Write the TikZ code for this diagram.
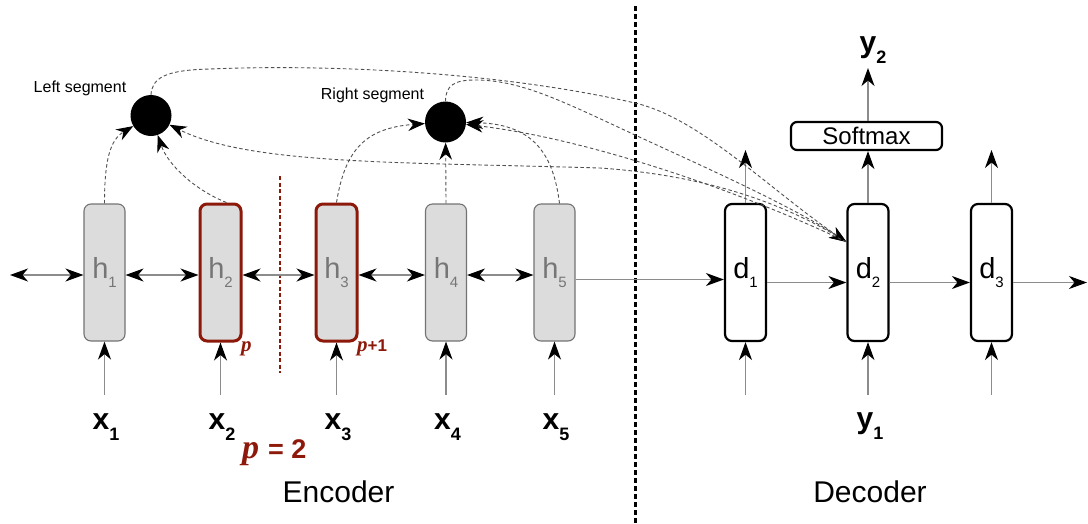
\documentclass[tikz,border=0pt]{standalone}
\usepackage{fontspec}
\setmainfont{Liberation Sans}
\newfontfamily\pserif{Liberation Serif}
\usetikzlibrary{arrows.meta,calc}
\definecolor{segred}{RGB}{140,25,10}
\definecolor{boxgray}{RGB}{220,220,220}
\definecolor{linegray}{RGB}{140,140,140}
\definecolor{labgray}{RGB}{118,118,118}
\definecolor{dashgray}{RGB}{80,80,80}
\newcommand{\hlab}[1]{{\color{labgray}\fontsize{29}{29}\selectfont h\raisebox{-8.5pt}{\fontsize{15}{15}\selectfont #1}}}
\newcommand{\dlab}[1]{{\fontsize{29}{29}\selectfont d\raisebox{-8.5pt}{\fontsize{15}{15}\selectfont #1}}}
\newcommand{\xylab}[2]{{\fontsize{30}{30}\selectfont\bfseries #1\raisebox{-11pt}{\fontsize{18}{18}\selectfont #2}}}
\begin{document}
\begin{tikzpicture}[x=1pt,y=-1pt,
  hbox/.style={draw=black!55,line width=1.1pt,fill=boxgray,rounded corners=7pt,minimum width=41pt,minimum height=137pt,inner sep=0pt},
  pbox/.style={hbox,draw=segred,line width=3pt},
  dbox/.style={draw=black,line width=2.2pt,fill=white,rounded corners=7pt,minimum width=41pt,minimum height=137pt,inner sep=0pt},
  smbox/.style={draw=black,line width=2.2pt,fill=white,rounded corners=6pt,minimum width=151pt,minimum height=28pt,inner sep=0pt,font=\fontsize{24}{24}\selectfont},
  seg/.style={circle,fill=black,minimum size=41pt,inner sep=0pt},
  arr/.style={draw=linegray,line width=1.2pt,-{Stealth[length=18pt,width=13pt,inset=5.5pt,color=black]}},
  barr/.style={draw=linegray,line width=1.2pt,{Stealth[length=18pt,width=13pt,inset=5.5pt,color=black]}-{Stealth[length=18pt,width=13pt,inset=5.5pt,color=black]}},
  dsh/.style={draw=dashgray,line width=0.9pt,dash pattern=on 3.5pt off 2.5pt,-{Stealth[length=17pt,width=12.5pt,inset=5.5pt,color=black]}},
  txt/.style={anchor=base,inner sep=0pt}
]
\useasboundingbox (0,0) rectangle (1088,523);

% separators
\draw[line width=3pt,dash pattern=on 5pt off 3pt] (635,6) -- (635,523);
\draw[segred,line width=2.8pt,dash pattern=on 4pt off 2.5pt] (280,176) -- (280,373);

% encoder boxes
\node[hbox] (h1) at (104.5,272.5) {\hlab{1}};
\node[pbox] (h2) at (220.5,272.5) {\hlab{2}};
\node[pbox] (h3) at (336.5,272.5) {\hlab{3}};
\node[hbox] (h4) at (446,272.5) {\hlab{4}};
\node[hbox] (h5) at (554.5,272.5) {\hlab{5}};
% decoder boxes
\node[dbox] (d1) at (745.5,272.5) {\dlab{1}};
\node[dbox] (d2) at (868,272.5) {\dlab{2}};
\node[dbox] (d3) at (991.5,272.5) {\dlab{3}};
\node[smbox] (sm) at (866.5,136) {Softmax};

% segment nodes
\node[seg] (L) at (151,115.5) {};
\node[seg] (R) at (445.5,122) {};
\node[txt,font=\fontsize{16}{16}\selectfont] (Ll) at (80,92) {Left segment};
\node[txt,font=\fontsize{16}{16}\selectfont] (Rl) at (372.5,99) {Right segment};

% labels
\node[txt] (x1) at (106,429) {\xylab{x}{1}};
\node[txt] (x2) at (222,429) {\xylab{x}{2}};
\node[txt] (x3) at (338,429) {\xylab{x}{3}};
\node[txt] (x4) at (447.5,429) {\xylab{x}{4}};
\node[txt] (x5) at (556,429) {\xylab{x}{5}};
\node[txt] (y1) at (870,428) {\xylab{y}{1}};
\node[txt] (y2) at (873,52) {\xylab{y}{2}};
\node[txt,font=\fontsize{30}{36}\selectfont] (enc) at (338.5,502) {Encoder};
\node[txt,font=\fontsize{30}{36}\selectfont] (dec) at (870,502) {Decoder};
\node[anchor=base west,inner sep=0pt,text=segred] (pa) at (241,351) {\pserif\bfseries\itshape\fontsize{21}{21}\selectfont p};
\node[anchor=base west,inner sep=0pt,text=segred] (pb) at (357,351) {{\pserif\bfseries\itshape\fontsize{21}{21}\selectfont p}{\bfseries\fontsize{17}{17}\selectfont +1}};
\node[anchor=base west,inner sep=0pt,text=segred] (pc) at (242,458) {{\pserif\bfseries\itshape\fontsize{34}{34}\selectfont p}\hspace{9pt}{\bfseries\fontsize{27}{27}\selectfont = 2}};

% coordinates
\coordinate (lft) at (10,275);
\coordinate (rgt) at (1087,282.5);
\coordinate (t1) at (745.5,150);
\coordinate (t3) at (991.5,150);
\coordinate (ty2) at (868,68);
\coordinate (d2in) at ($(d2.north west)+(0,39)$);
\foreach \n/\xx in {h1/104.5,h2/220.5,h3/336.5,h4/446,h5/554.5,d1/745.5,d2/868,d3/991.5}{
  \coordinate (b\n) at (\xx,395);
}

% bottom inputs
\foreach \n in {h1,h2,h3,h4,h5,d1,d2,d3}{
  \draw[arr] (b\n) -- (\n.south);
}
% horizontal
\draw[barr] (lft) -- ([yshift=-2.5pt]h1.west);
\draw[barr] ([yshift=-2.5pt]h1.east) -- ([yshift=-2.5pt]h2.west);
\draw[barr] ([yshift=-2.5pt]h2.east) -- ([yshift=-2.5pt]h3.west);
\draw[barr] ([yshift=-2.5pt]h3.east) -- ([yshift=-2.5pt]h4.west);
\draw[barr] ([yshift=-2.5pt]h4.east) -- ([yshift=-2.5pt]h5.west);
\draw[arr] ([yshift=-7pt]h5.east) -- ([yshift=-7pt]d1.west);
\draw[arr] ([yshift=-10pt]d1.east) -- ([yshift=-10pt]d2.west);
\draw[arr] ([yshift=-10pt]d2.east) -- ([yshift=-10pt]d3.west);
\draw[arr] ([yshift=-10pt]d3.east) -- (rgt);
% upward
\draw[arr] (d1.north) -- (t1);
\draw[arr] (d3.north) -- (t3);
\draw[arr] (d2.north) -- (d2.north |- sm.south);
\draw[arr] (d2.north |- sm.north) -- (ty2);

% attention curves: left segment
\draw[dsh] (h1.north) .. controls (104.5,160) and (110,140) .. (L);
\draw[dsh] ([xshift=6pt]h2.north) .. controls (195,190) and (168,165) .. (L);
\draw[dsh] (L.north) .. controls (152,78) and (165,70) .. (210,69) .. controls (330,64) and (500,72) .. (635,103) .. controls (700,118) and (770,190) .. (d2in);
\draw[dsh] (d2in) .. controls (780,200) and (700,175) .. (600,168) .. controls (400,162) and (250,165) .. (L);
% right segment
\draw[dsh] (h3.north) .. controls (345,150) and (365,128) .. (R);
\draw[dsh] (h4.north) -- (R);
\draw[dsh] ([xshift=5pt]h5.north) .. controls (553,150) and (530,124) .. (R);
\draw[dsh] (R.north) .. controls (445.5,85) and (455,80) .. (475,80) .. controls (520,80) and (560,100) .. (635,135) .. controls (700,165) and (790,205) .. (d2in);
\draw[dsh] (d2in) .. controls (760,200) and (600,140) .. (R);
\end{tikzpicture}
\end{document}
